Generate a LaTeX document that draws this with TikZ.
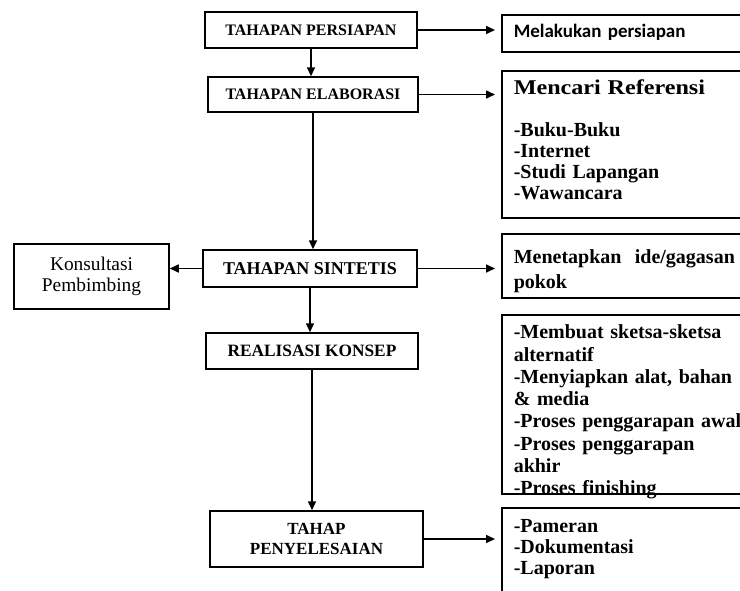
\documentclass[tikz,border=0pt]{standalone}
\usepackage{fontspec}
\setmainfont{Liberation Serif}
\newfontfamily\calibri{Carlito}
\newfontfamily\lebar[FakeStretch=1.15]{Liberation Serif}
\usetikzlibrary{arrows.meta}

\tikzset{
  tahap/.style={draw, line width=1.5pt, align=center, inner sep=0pt,
    font=\bfseries\fontsize{16}{19}\selectfont},
  ket/.style={draw, line width=1.5pt, anchor=north west, align=left,
    inner xsep=12pt, inner ysep=0pt, text width=236pt,
    font=\bfseries\fontsize{20}{21}\selectfont},
  panah/.style={line width=1.6pt, -{Triangle[length=9pt,width=8pt]}},
}

\begin{document}
\begin{tikzpicture}[x=1pt,y=-1pt]
    % Page
    \clip (0,0) rectangle (740,590);
    \fill[white] (0,0) rectangle (740,590);

    % Stages (left column)
    \node[tahap, minimum width=212pt, minimum height=36pt] (persiapan) at (311,30) {TAHAPAN PERSIAPAN};
    \node[tahap, minimum width=210pt, minimum height=35pt] (elaborasi) at (313,94.5) {TAHAPAN ELABORASI};
    \node[tahap, minimum width=214pt, minimum height=37pt,
          font=\bfseries\fontsize{18}{20}\selectfont] (sintetis) at (310,268.5) {TAHAPAN SINTETIS};
    \node[tahap, minimum width=212pt, minimum height=36pt,
          font=\bfseries\fontsize{17.3}{20}\selectfont] (realisasi) at (312,351) {REALISASI KONSEP};
    \node[tahap, minimum width=213pt, minimum height=56pt,
          font=\bfseries\fontsize{17}{20}\selectfont] (penyelesaian) at (316.5,539) {TAHAP\\PENYELESAIAN};

    % Konsultasi
    \node[tahap, minimum width=155pt, minimum height=65pt,
          font=\fontsize{19.4}{21}\selectfont] (konsultasi) at (91.5,276.5) {Konsultasi\\Pembimbing};

    % Descriptions (right column)
    \node[ket, text height=23pt, text depth=14pt,
          font=\calibri\bfseries\fontsize{19}{22}\selectfont] (melakukan) at (501,14) {Melakukan persiapan};
    \node[ket, text height=24pt, text depth=123pt] (referensi) at (501,70)
        {{\lebar\bfseries\fontsize{21}{21}\selectfont Mencari Referensi}\\[21pt]-Buku-Buku\\-Internet\\-Studi Lapangan\\-Wawancara};
    \node[ket, text height=30pt, text depth=34pt,
          font=\bfseries\fontsize{20}{25}\selectfont] (gagasan) at (501,233)
        {Menetapkan\ \ ide/gagasan\\pokok};
    \node[ket, text height=24pt, text depth=155pt,
          font=\bfseries\fontsize{20}{22.3}\selectfont] (konsep) at (501,314)
        {-Membuat sketsa-sketsa\\alternatif\\-Menyiapkan alat, bahan\\\& media\\-Proses penggarapan awal\\-Proses penggarapan\\akhir\\-Proses finishing};
    \node[ket, text height=25pt, text depth=100pt] (laporan) at (501,507)
        {-Pameran\\-Dokumentasi\\-Laporan};

    % Flow downwards
    \draw[panah] (persiapan.south) -- (persiapan.south |- elaborasi.north);
    \draw[panah] (elaborasi.south) -- (elaborasi.south |- sintetis.north);
    \draw[panah] (sintetis.south) -- (sintetis.south |- realisasi.north);
    \draw[panah] (realisasi.south) -- (realisasi.south |- penyelesaian.north);

    % Side arrows
    \draw[panah] (sintetis.west) -- (sintetis.west -| konsultasi.east);
    \draw[panah, shorten >=6pt] (persiapan.east) -- (persiapan.east -| melakukan.west);
    \draw[panah, shorten >=6pt] (elaborasi.east) -- (elaborasi.east -| referensi.west);
    \draw[panah, shorten >=6pt] (sintetis.east) -- (sintetis.east -| gagasan.west);
    \draw[panah, shorten >=6pt] (penyelesaian.east) -- (penyelesaian.east -| laporan.west);
\end{tikzpicture}
\end{document}
